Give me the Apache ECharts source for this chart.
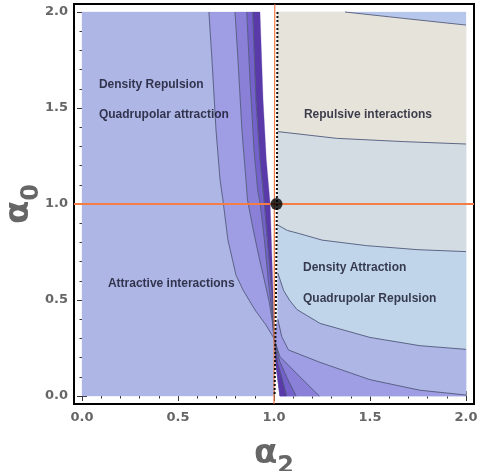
<!DOCTYPE html>
<html><head><meta charset="utf-8">
<script src="https://cdn.jsdelivr.net/npm/echarts@6/dist/echarts.min.js"></script>
<style>html,body{margin:0;padding:0;background:#fff}#c{width:490px;height:471px}</style>
</head><body><div id="c"></div>
<script>
// ---- axis ticks / labels ----
const majorTicks = [0, 0.5, 1, 1.5, 2];
const minorTicks = [0.1,0.2,0.3,0.4,0.6,0.7,0.8,0.9,1.1,1.2,1.3,1.4,1.6,1.7,1.8,1.9];
const tickLabels = ['0.0', '0.5', '1.0', '1.5', '2.0'];
const xTitle = 'α', xSub = '2', yTitle = 'α', ySub = '0';

// ---- left-side contour curves [alpha2, alpha0], top -> bottom ----
const leftC1 = [[0.661,2.0],[0.677,1.75],[0.698,1.385],[0.719,1.125],[0.734,1.021],[0.760,0.813],[0.802,0.630],[0.839,0.552],[0.901,0.448],[0.958,0.370],[1.0,0.30]];
const leftC2 = [[0.797,2.0],[0.8125,1.75],[0.833,1.385],[0.854,1.125],[0.862,1.021],[0.892,0.865],[0.922,0.724],[0.955,0.58],[0.975,0.49],[0.993,0.38],[1.0,0.30]];
const leftC3 = [[0.858,2.0],[0.875,1.646],[0.896,1.281],[0.915,1.073],[0.928,1.0],[0.950,0.813],[0.970,0.604],[0.988,0.448],[1.0,0.30]];
const leftC4 = [[0.889,2.0],[0.906,1.542],[0.927,1.229],[0.950,1.0],[0.970,0.760],[0.988,0.552],[1.0,0.30]];
const leftC5 = [[0.927,2.0],[0.943,1.542],[0.960,1.229],[0.980,1.0],[0.988,0.760],[0.996,0.5],[1.0,0.30]];

// ---- right-side contour curves, left -> right ----
const rightA = [[1.370,2.0],[1.673,1.967],[2.0,1.932]];
const rightB = [[1.02,1.377],[1.326,1.342],[1.673,1.325],[2.0,1.3125]];
const rightC = [[1.02,0.89],[1.07,0.862],[1.135,0.845],[1.25,0.812],[1.483,0.783],[1.75,0.762],[2.0,0.752]];
const rightD = [[1.02,0.64],[1.05,0.55],[1.08,0.50],[1.12,0.45],[1.24,0.378],[1.5,0.305],[1.76,0.262],[2.0,0.243]];
const rightE = [[1.02,0.40],[1.04,0.31],[1.075,0.24],[1.24,0.175],[1.5,0.085],[1.76,0.03],[2.0,0.005]];
// fan curves below the saddle near (1, 0.3)
const fan1 = [[1.0,0.30],[1.031,0.205],[1.135,0.10],[1.236,0.0]];
const fan2 = [[1.0,0.30],[1.03,0.18],[1.07,0.09],[1.115,0.0]];
const fan3 = [[1.0,0.30],[1.02,0.17],[1.045,0.08],[1.066,0.0]];
const fanEdge = [[1.0,0.30],[1.012,0.15],[1.031,0.0]];
const rightEdge = [[1.02,2.0],[1.02,0.40]].concat(fanEdge);

// ---- reference lines / point ----
const hLineY = 1.0;
const vLine = [[1.0,-0.04],[1.004,2.04]];
const blackLine = [[1.018,2.0],[1.015,1.0],[1.01,0.5],[1.003,0.0]];
const criticalPoint = [1.013, 1.0];

// ---- annotations: [text, alpha2, alpha0] ----
const notes = [
  ['Density Repulsion', 0.088, 1.620],
  ['Quadrupolar attraction', 0.088, 1.464],
  ['Repulsive interactions', 1.156, 1.464],
  ['Attractive interactions', 0.135, 0.583],
  ['Density Attraction', 1.151, 0.667],
  ['Quadrupolar Repulsion', 1.151, 0.505]
];

// ---- colours ----
const C = {
  bg: '#aeb6e6', b1: '#9f9de4', b2: '#8a80d8', b3: '#7561cc', b4: '#5a3aa8',
  corner: '#b7c7ec', beige: '#e6e3db', grey: '#d4dce3', lblue: '#c1d5ea',
  line: '#505a7a', orange: '#f27d45'
};

const rev = a => a.slice().reverse();
function belowCurve(curve) {
  const y0 = curve[0][1];
  const start = curve[0][0] > 1.1 ? [[rightEdge[0][0], 2.0]] : [];
  const end = curve[curve.length - 1];
  const corner = (end[0] >= 2 && end[1] > 0) ? [[2, 0]] : [];
  const lower = rightEdge.filter(p => p[1] < y0 - 1e-9).reverse();
  return start.concat(curve, corner, lower);
}

const polys = [
  {pts: [[0,0],[0,2]].concat(leftC1, [[1.0,0]]), color: C.bg},
  {pts: leftC1.concat(rev(leftC2)), color: C.b1},
  {pts: leftC2.concat(rev(leftC3)), color: C.b2},
  {pts: leftC3.concat(rev(leftC4)), color: C.b3},
  {pts: leftC4.concat(rev(leftC5)), color: C.b4},
  {pts: [[2,2],[2,0]].concat(rev(rightEdge)), color: C.corner},
  {pts: belowCurve(rightA), color: C.beige},
  {pts: belowCurve(rightB), color: C.grey},
  {pts: belowCurve(rightC), color: C.lblue},
  {pts: belowCurve(rightD), color: C.bg},
  {pts: belowCurve(rightE), color: C.b1},
  {pts: belowCurve(fan1), color: C.b2},
  {pts: belowCurve(fan2), color: C.b3},
  {pts: belowCurve(fan3), color: C.b4}
];

const contourLines = [leftC1, leftC2, leftC3, leftC4, rightA, rightB, rightC, rightD, rightE, fan1, fan2, fan3];

const pad = 8 / 192;
const lo = -pad, hi = 2 + pad;
const labelStyle = {color: '#666', fontFamily: 'DejaVu Sans', fontWeight: 'bold', fontSize: 13};
const fmt = v => tickLabels[majorTicks.indexOf(Math.round(v * 10) / 10)] || '';

function mkAxes(dim) {
  const isX = dim === 'x';
  const posA = isX ? 'bottom' : 'left', posB = isX ? 'top' : 'right';
  const base = {type: 'value', min: lo, max: hi, splitLine: {show: false}, axisLine: {show: false}};
  const title = isX ? xTitle : yTitle, sub = isX ? xSub : ySub;
  return [
    Object.assign({}, base, {
      position: posA,
      axisTick: {show: true, inside: true, length: 5, customValues: majorTicks, lineStyle: {color: '#333', width: 1}},
      axisLabel: {show: true, customValues: majorTicks, formatter: fmt, margin: isX ? 7 : 6, ...labelStyle},
      name: '{a|' + title + '}{s|' + sub + '}', nameLocation: 'middle', nameGap: isX ? 33 : 38,
      nameMoveOverlap: false,
      nameTextStyle: {rich: {
        a: {fontSize: 34, fontWeight: 'bold', fontFamily: 'DejaVu Sans', color: '#666', verticalAlign: 'bottom'},
        s: {fontSize: 24, fontWeight: 'bold', fontFamily: 'DejaVu Sans', color: '#666', verticalAlign: 'bottom', padding: [0, 0, -8, 0]}
      }}
    }),
    Object.assign({}, base, {position: posB,
      axisTick: {show: true, inside: true, length: 5, customValues: majorTicks, lineStyle: {color: '#333'}},
      axisLabel: {show: false}}),
    Object.assign({}, base, {position: posA,
      axisTick: {show: true, inside: true, length: 2.5, customValues: minorTicks, lineStyle: {color: '#333'}},
      axisLabel: {show: false}}),
    Object.assign({}, base, {position: posB,
      axisTick: {show: true, inside: true, length: 2.5, customValues: minorTicks, lineStyle: {color: '#333'}},
      axisLabel: {show: false}})
  ];
}

const series = [];
series.push({
  type: 'custom', coordinateSystem: 'cartesian2d', xAxisIndex: 0, yAxisIndex: 0, z: 1,
  data: polys.map((p, i) => [p.pts[0][0], p.pts[0][1], i]),
  renderItem: (params, api) => {
    const p = polys[api.value(2)];
    return {type: 'polygon', shape: {points: p.pts.map(q => api.coord(q))},
      style: {fill: p.color, stroke: p.color, lineWidth: 0.3}};
  },
  silent: true
});
contourLines.forEach(c => series.push({
  type: 'line', data: c, symbol: 'none', z: 3, silent: true,
  lineStyle: {color: C.line, width: 0.9}
}));
series.push({type: 'line', data: [[lo, hLineY], [hi, hLineY]], symbol: 'none', z: 4,
  lineStyle: {color: C.orange, width: 2}});
series.push({type: 'line', data: vLine, symbol: 'none', z: 4,
  lineStyle: {color: C.orange, width: 1.2}});
series.push({type: 'line', data: blackLine, symbol: 'none', z: 5,
  lineStyle: {color: '#111', width: 2, type: 'dotted'}});
series.push({type: 'scatter', data: [criticalPoint], symbolSize: 12, z: 6,
  itemStyle: {color: '#000'}});
series.push({type: 'scatter', data: notes.map(n => ({value: [n[1], n[2]], name: n[0]})),
  symbolSize: 0, z: 7, silent: true,
  label: {show: true, position: 'inside', align: 'left', verticalAlign: 'middle',
    formatter: p => p.name, color: '#111225', fontFamily: 'Liberation Sans', fontWeight: 'bold', fontSize: 12}});

const chart = echarts.init(document.getElementById('c'), null, {renderer: 'canvas'});
chart.setOption({
  animation: false,
  backgroundColor: '#fff',
  grid: {left: 74, right: 16, top: 4, bottom: 67, show: true, borderColor: '#000', borderWidth: 2,
    backgroundColor: '#fff', outerBoundsMode: 'none', containLabel: false},
  xAxis: mkAxes('x'),
  yAxis: mkAxes('y'),
  series: series
});
</script></body></html>
